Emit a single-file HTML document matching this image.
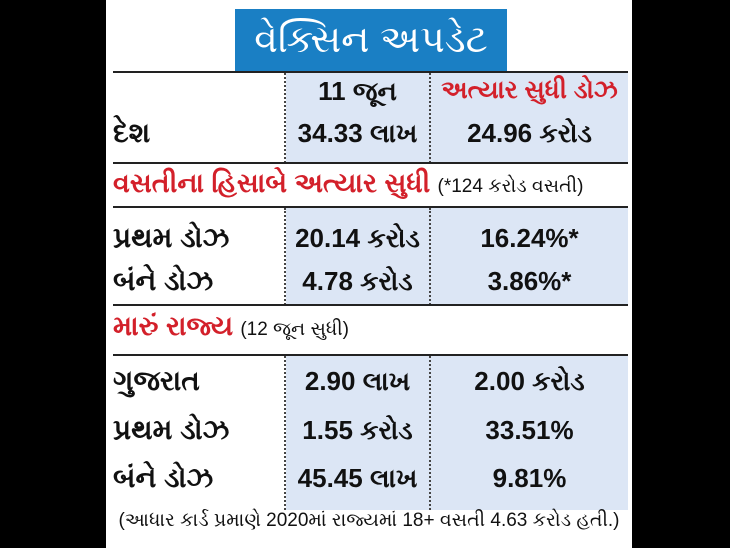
<!DOCTYPE html>
<html><head><meta charset="utf-8"><style>
body{margin:0;width:730px;height:548px;background:#000;position:relative;overflow:hidden;font-family:"Liberation Sans",sans-serif}
.p{position:absolute;left:106px;top:0;width:526px;height:548px;background:#fff}
.a{position:absolute;white-space:nowrap}
.t{position:absolute;left:235px;top:9px;width:272px;height:63px;background:#1a7fc4;color:#fff;font-size:38px;text-align:center;line-height:63px}
.hl{position:absolute;left:113px;width:515px;height:2px;background:#222}
.bl{position:absolute;background:#dce6f5}
.dv{position:absolute;width:0;border-left:2px dotted #444}
.c{position:absolute;text-align:center;font-weight:bold;font-size:26px;color:#111;white-space:nowrap}
.l{position:absolute;left:113px;font-weight:bold;font-size:26px;color:#111;white-space:nowrap}
.r{color:#d3202a;font-weight:bold}
</style></head><body>
<div class="p"></div>
<div class="t">વેક્સિન અપડેટ</div>
<div class="bl" style="left:286px;top:73px;width:342px;height:90px"></div>
<div class="bl" style="left:286px;top:208px;width:342px;height:97px"></div>
<div class="bl" style="left:286px;top:356px;width:342px;height:154px"></div>
<div class="dv" style="left:284px;top:73px;height:90px"></div>
<div class="dv" style="left:429px;top:73px;height:90px"></div>
<div class="dv" style="left:284px;top:208px;height:97px"></div>
<div class="dv" style="left:429px;top:208px;height:97px"></div>
<div class="dv" style="left:284px;top:356px;height:154px"></div>
<div class="dv" style="left:429px;top:356px;height:154px"></div>
<div class="hl" style="top:71px"></div>
<div class="hl" style="top:162px"></div>
<div class="hl" style="top:206px"></div>
<div class="hl" style="top:304px"></div>
<div class="hl" style="top:354px"></div>
<div class="c" style="left:286px;width:143px;top:76px">11 જૂન</div>
<div class="c r" style="left:431px;width:197px;top:76px;font-size:25px">અત્યાર સુધી ડોઝ</div>
<div class="l" style="top:117px;font-size:28px">દેશ</div>
<div class="c" style="left:286px;width:143px;top:118px">34.33 લાખ</div>
<div class="c" style="left:431px;width:197px;top:118px">24.96 કરોડ</div>
<div class="l" style="top:168px"><span class="r" style="font-size:27px">વસતીના હિસાબે અત્યાર સુધી</span> <span style="font-weight:normal;font-size:19px">(*124 કરોડ વસતી)</span></div>
<div class="l" style="top:222px;font-size:28px">પ્રથમ ડોઝ</div>
<div class="c" style="left:286px;width:143px;top:223px">20.14 કરોડ</div>
<div class="c" style="left:431px;width:197px;top:223px">16.24%*</div>
<div class="l" style="top:265px;font-size:28px">બંને ડોઝ</div>
<div class="c" style="left:286px;width:143px;top:266px">4.78 કરોડ</div>
<div class="c" style="left:431px;width:197px;top:266px">3.86%*</div>
<div class="l" style="top:311px"><span class="r" style="font-size:27px">મારું રાજ્ય</span> <span style="font-weight:normal;font-size:19px">(12 જૂન સુધી)</span></div>
<div class="l" style="top:365px;font-size:28px">ગુજરાત</div>
<div class="c" style="left:286px;width:143px;top:366px">2.90 લાખ</div>
<div class="c" style="left:431px;width:197px;top:366px">2.00 કરોડ</div>
<div class="l" style="top:414px;font-size:28px">પ્રથમ ડોઝ</div>
<div class="c" style="left:286px;width:143px;top:415px">1.55 કરોડ</div>
<div class="c" style="left:431px;width:197px;top:415px">33.51%</div>
<div class="l" style="top:462px;font-size:28px">બંને ડોઝ</div>
<div class="c" style="left:286px;width:143px;top:463px">45.45 લાખ</div>
<div class="c" style="left:431px;width:197px;top:463px">9.81%</div>
<div class="a" style="left:108px;top:510px;width:522px;text-align:center;font-size:19px;color:#111">(આધાર કાર્ડ પ્રમાણે 2020માં રાજ્યમાં 18+ વસતી 4.63 કરોડ હતી.)</div>
</body></html>
